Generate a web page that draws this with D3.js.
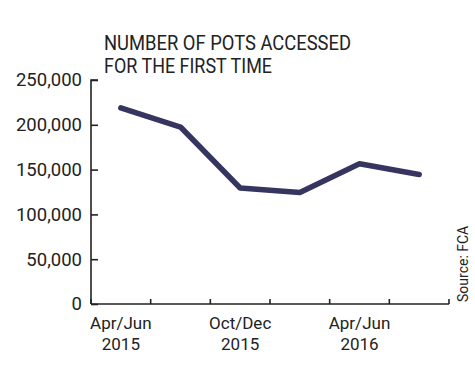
<!DOCTYPE html>
<html><head><meta charset="utf-8">
<script src="https://cdn.jsdelivr.net/npm/d3@7"></script>
<style>body{margin:0;background:#fff}svg{display:block}</style>
</head><body>
<script>
const quarters = ["Apr/Jun 2015","Jul/Sep 2015","Oct/Dec 2015","Jan/Mar 2016","Apr/Jun 2016","Jul/Sep 2016"];
const potsAccessed = [219000, 197500, 129500, 124500, 156500, 144500];
const yTicks = [0, 50000, 100000, 150000, 200000, 250000];
const xLabelQuarters = ["Apr/Jun 2015","Oct/Dec 2015","Apr/Jun 2016"];
const titleLines = ["NUMBER OF POTS ACCESSED","FOR THE FIRST TIME"];
const sourceText = "Source: FCA";

const W = 475, H = 372;
const svg = d3.select("body").append("svg").attr("width", W).attr("height", H);
const x = d3.scaleBand().domain(quarters).range([91, 449]);
const y = d3.scaleLinear().domain([0, 250000]).range([304, 80]);
const font = "Roboto, sans-serif";
const ink = "#222";

// title
svg.append("g").selectAll("text").data(titleLines).join("text")
  .attr("x", 104).attr("y", (d,i) => 50 + i*23)
  .attr("font-family", font).attr("font-size", 20.5)
  .attr("fill", ink).attr("textLength", (d,i) => i === 0 ? 247 : 168)
  .attr("lengthAdjust", "spacingAndGlyphs")
  .text(d => d);

// y axis
const yAxis = svg.append("g").attr("transform", "translate(91,0)")
  .call(d3.axisLeft(y).tickValues(yTicks).tickSize(-7).tickPadding(9).tickFormat(d3.format(",")));
yAxis.select(".domain").attr("d", `M7,${y(250000)}H0V${y(0)}`);
// x axis
const xAxis = svg.append("g").attr("transform", "translate(0,304)");
xAxis.append("path").attr("d", `M${x.range()[0]},0H${x.range()[1]}`).attr("stroke", ink).attr("stroke-width", 1.6).attr("fill","none");
const bounds = quarters.map(q => x(q) + x.bandwidth()).concat([x(quarters[0])]);
xAxis.selectAll("line.tick").data(bounds).join("line").attr("class","tick")
  .attr("x1", d => d).attr("x2", d => d).attr("y1", 0).attr("y2", -5)
  .attr("stroke", ink).attr("stroke-width", 1.6);
const xl = xAxis.selectAll("text.lab").data(xLabelQuarters).join("text").attr("class","lab")
  .attr("text-anchor","middle").attr("font-family", font).attr("font-size", 17).attr("fill", ink)
  .attr("transform", d => `translate(${x(d) + x.bandwidth()/2},0)`);
xl.append("tspan").attr("x",0).attr("y",25).text(d => d.split(" ")[0]);
xl.append("tspan").attr("x",0).attr("y",46).text(d => d.split(" ")[1]);

yAxis.selectAll("path,line").attr("stroke", ink).attr("stroke-width", 1.6);
yAxis.selectAll("text").attr("font-family", font).attr("font-size", 18.5).attr("fill", ink);

// line
const line = d3.line().x((d,i) => x(quarters[i]) + x.bandwidth()/2).y(d => y(d));
svg.append("path").datum(potsAccessed).attr("d", line)
  .attr("fill","none").attr("stroke","#35355f").attr("stroke-width",5.5)
  .attr("stroke-linejoin","round").attr("stroke-linecap","round");

// source
svg.append("text").attr("transform","translate(468,302) rotate(-90)")
  .attr("font-family", font).attr("font-size", 14).attr("fill", ink).text(sourceText);
</script>
</body></html>
